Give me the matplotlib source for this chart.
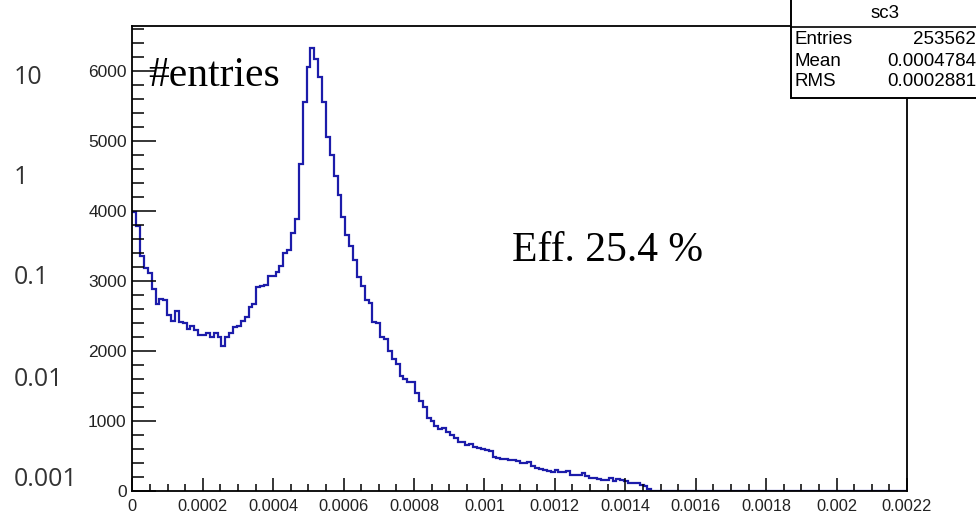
import numpy as np
import matplotlib
matplotlib.use("Agg")
import matplotlib.pyplot as plt
from matplotlib.ticker import MultipleLocator, FuncFormatter
from matplotlib.patches import Rectangle
from matplotlib.lines import Line2D

# ---- data (histogram "sc3", 200 bins from 0 to 0.0022) ----
x_min = 0.0
x_max = 0.0022
n_bins = 200
counts = [
    3990, 3780, 3350, 3180, 3120, 2880, 2670, 2745, 2730, 2515,
    2435, 2570, 2420, 2400, 2310, 2355, 2300, 2230, 2230, 2255,
    2205, 2255, 2205, 2075, 2205, 2260, 2340, 2360, 2435, 2490,
    2625, 2670, 2910, 2930, 2945, 3070, 3065, 3130, 3210, 3396,
    3444, 3685, 3882, 4673, 5563, 6063, 6330, 6170, 5920, 5563,
    5063, 4795, 4500, 4230, 3920, 3655, 3495, 3301, 3062, 2925,
    2722, 2690, 2410, 2400, 2196, 2170, 2000, 1882, 1810, 1643,
    1596, 1560, 1550, 1396, 1290, 1205, 1039, 1005, 930, 880,
    896, 848, 800, 760, 705, 700, 650, 670, 634, 615,
    605, 586, 565, 490, 465, 453, 455, 443, 440, 430,
    398, 395, 415, 355, 324, 310, 300, 291, 276, 300,
    276, 270, 280, 229, 229, 229, 262, 214, 181, 181,
    172, 157, 157, 181, 148, 167, 157, 143, 110, 110,
    110, 85, 65, 30,
]
y_max = 6647
overlay_labels = ["10", "1", "0.1", "0.01", "0.001"]
stats_title = "sc3"
stats_names = ["Entries", "Mean", "RMS"]
stats_values = ["253562", "0.0004784", "0.0002881"]
eff_text = "Eff. 25.4 %"
ylabel_text = "#entries"

W, H = 976, 515
fig = plt.figure(figsize=(W / 100, H / 100), dpi=100)
fig.patch.set_facecolor("white")

def fx(px):
    return px / W

def fy(py):
    return 1 - py / H

ax_l, ax_r, ax_t, ax_b = 132.3, 907.0, 25.7, 491.0
ax = fig.add_axes([fx(ax_l), fy(ax_b), (ax_r - ax_l) / W, (ax_b - ax_t) / H])

vals = np.zeros(n_bins)
vals[:len(counts)] = counts
edges = np.linspace(x_min, x_max, n_bins + 1)
ax.stairs(vals, edges, baseline=None, color="#1c1caa", lw=1.6)

ax.set_xlim(x_min, x_max)
ax.set_ylim(0, y_max)

ax.xaxis.set_major_locator(MultipleLocator(0.0002))
ax.xaxis.set_minor_locator(MultipleLocator(0.00005))
ax.yaxis.set_major_locator(MultipleLocator(1000))
ax.yaxis.set_minor_locator(MultipleLocator(200))
ax.xaxis.set_major_formatter(FuncFormatter(lambda v, p: "0" if abs(v) < 1e-12 else "%g" % v))
ax.yaxis.set_major_formatter(FuncFormatter(lambda v, p: "%d" % round(v)))

ax.tick_params(axis="both", which="both", direction="in", colors="black",
               labelcolor="#222222", width=1.1)
ax.tick_params(axis="y", which="major", length=17.3, pad=4.0, labelsize=12.5)
ax.tick_params(axis="y", which="minor", length=8.6)
ax.tick_params(axis="x", which="major", length=9.4, pad=5.5, labelsize=11.8)
ax.tick_params(axis="x", which="minor", length=4.7)
for lab in ax.get_xticklabels() + ax.get_yticklabels():
    lab.set_fontfamily(["Liberation Sans", "DejaVu Sans"])
for s in ax.spines.values():
    s.set_linewidth(1.3)
    s.set_color("black")

serif = ["Liberation Serif", "DejaVu Serif"]
fig.text(fx(148), fy(86), ylabel_text, fontsize=30, family=serif,
         ha="left", va="baseline", color="black")
fig.text(fx(512), fy(261), eff_text, fontsize=30, family=serif,
         ha="left", va="baseline", color="black")

# overlay labels on the far left
overlay_y = [77, 178, 278, 380, 479]
for lab, yy in zip(overlay_labels, overlay_y):
    fig.text(fx(14), fy(yy), lab, fontsize=18, family=["Open Sans", "DejaVu Sans"],
             ha="left", va="center", color="#333333")

# stats box
box_l, box_t, box_b = 791, -5, 98
fig.add_artist(Rectangle((fx(box_l), fy(box_b)), (W + 10 - box_l) / W, (box_b - box_t) / H,
                         transform=fig.transFigure, facecolor="white",
                         edgecolor="black", lw=1.4, zorder=5, clip_on=False))
fig.add_artist(Line2D([fx(box_l), fx(W + 5)], [fy(26.7), fy(26.7)],
                      transform=fig.transFigure, color="black", lw=1.2, zorder=6))
sans = ["Liberation Sans", "DejaVu Sans"]
fig.text(fx(885), fy(13), stats_title, fontsize=13.5, family=sans,
         ha="center", va="center", color="black", zorder=7)
row_y = [40, 61, 82]
for name, val, yy in zip(stats_names, stats_values, row_y):
    fig.text(fx(795), fy(yy), name, fontsize=13.5, family=sans,
             ha="left", va="center", color="black", zorder=7)
    fig.text(fx(976), fy(yy), val, fontsize=13.5, family=sans,
             ha="right", va="center", color="black", zorder=7)

fig.savefig("out.png", dpi=100)
